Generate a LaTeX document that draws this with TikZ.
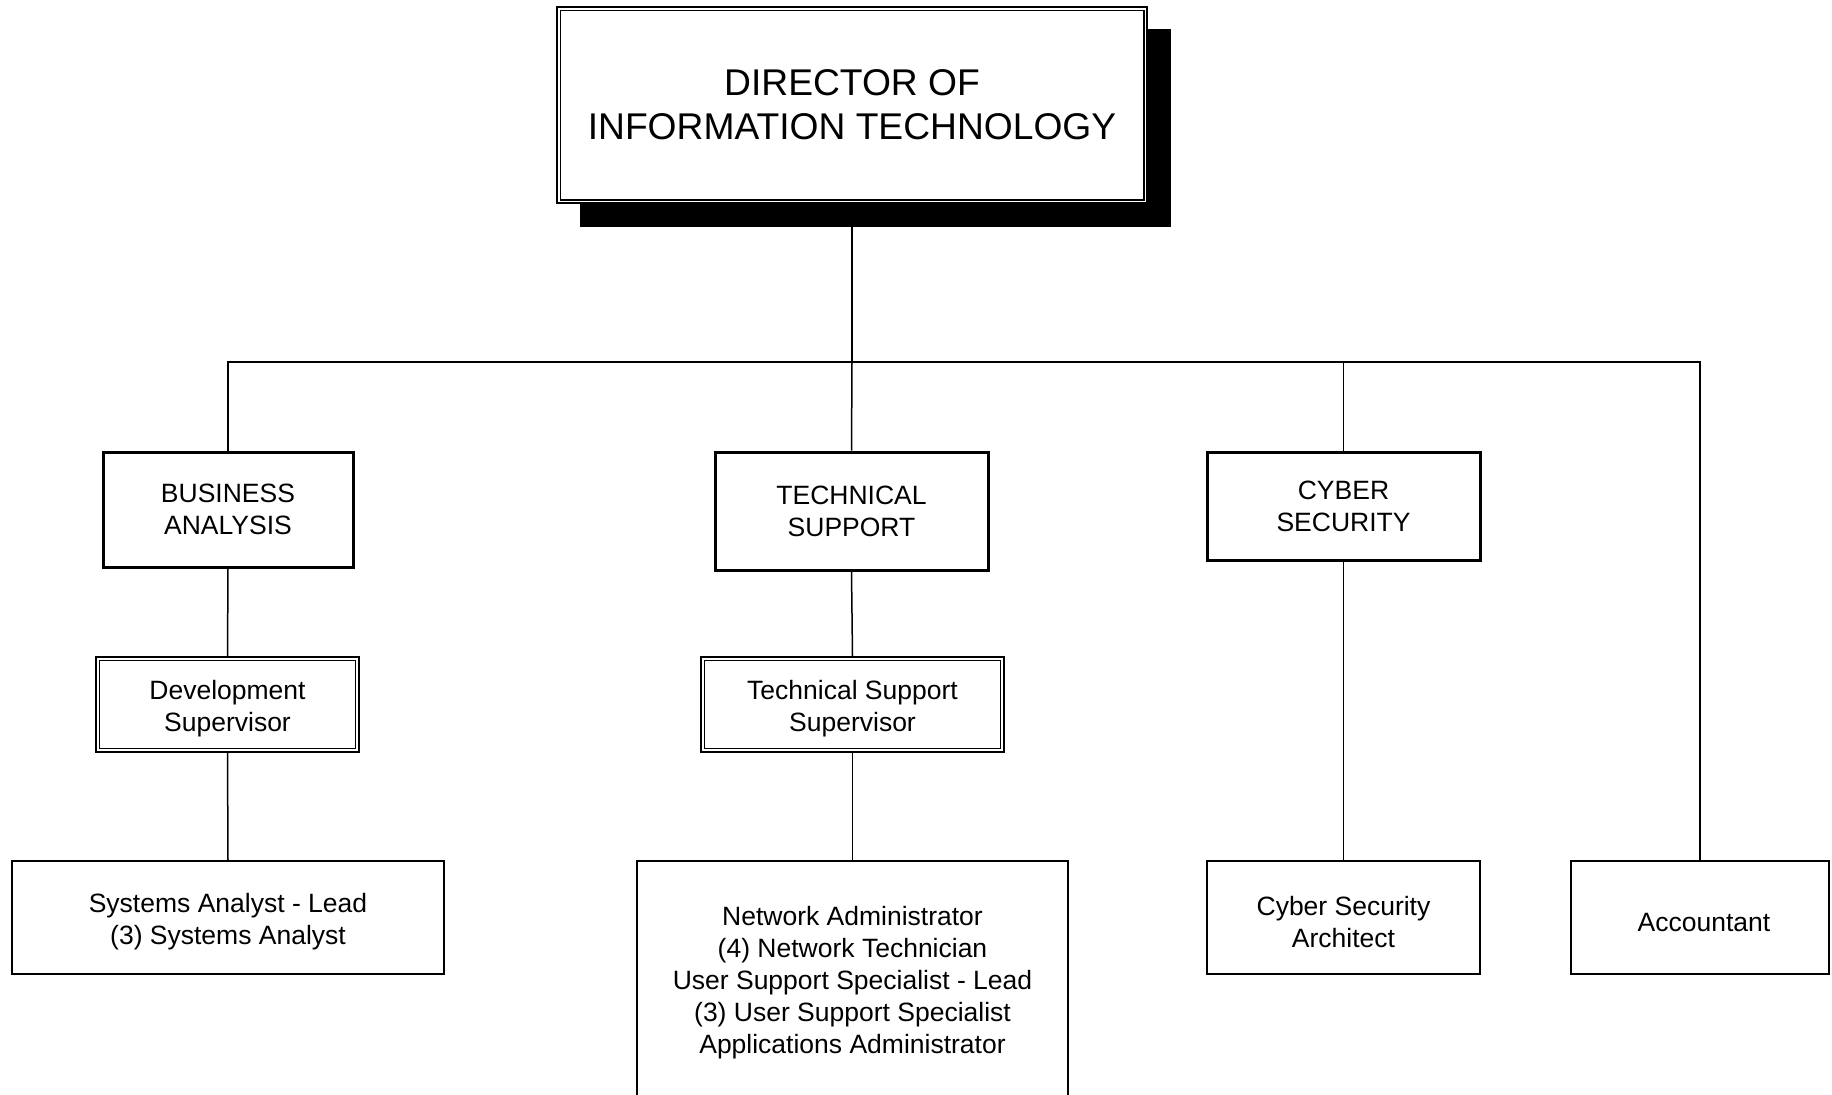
\documentclass[tikz,border=0pt]{standalone}
\usepackage{fontspec}
\setmainfont{Liberation Sans}
\newcommand{\lowtxt}{\rule{0pt}{13.6pt}}
\begin{document}
\begin{tikzpicture}[x=0.5pt,y=-0.5pt,
  every node/.style={inner sep=0pt,align=center,font=\fontsize{13.25}{16}\selectfont},
  conn/.style={line width=0.75pt},
  dirbox/.style={draw,line width=0.6pt,fill=white,font=\fontsize{18.6}{22}\selectfont},
  deptbox/.style={draw,line width=1.5pt,fill=white},
  supbox/.style={draw,line width=0.6pt,fill=white},
  staffbox/.style={draw,line width=1pt,fill=white}]
\useasboundingbox (0,0) rectangle (1832,1094);
\clip (0,0) rectangle (1832,1094);
% bus
\coordinate (bus) at (852,362);
% shadow of director
\fill[black] (580,29) rectangle (1171,227);
% director
\node[dirbox,minimum width=295pt,minimum height=98pt] (dir) at (852,105) {DIRECTOR OF\\INFORMATION TECHNOLOGY};
\draw[line width=0.9pt] ([shift={(4,4)}]dir.north west) rectangle ([shift={(-4,-4)}]dir.south east);
% departments
\node[deptbox,minimum width=125pt,minimum height=57.5pt] (ba) at (228,509.5) {BUSINESS\\ANALYSIS};
\node[deptbox,minimum width=136.5pt,minimum height=59pt] (ts) at (851.5,511) {TECHNICAL\\SUPPORT};
\node[deptbox,minimum width=136.5pt,minimum height=54pt] (cs) at (1343.5,506) {CYBER\\SECURITY};
% supervisors
\node[supbox,minimum width=131.5pt,minimum height=47.5pt] (ds) at (227.5,704.5) {\lowtxt Development\\Supervisor};
\draw[line width=0.6pt] ([shift={(4,4)}]ds.north west) rectangle ([shift={(-4,-4)}]ds.south east);
\node[supbox,minimum width=151.5pt,minimum height=47.5pt] (tss) at (852.5,704.5) {\lowtxt Technical Support\\Supervisor};
\draw[line width=0.6pt] ([shift={(4,4)}]tss.north west) rectangle ([shift={(-4,-4)}]tss.south east);
% staff
\node[staffbox,minimum width=216pt,minimum height=56.5pt] (sa) at (228,917.5) {\lowtxt Systems Analyst - Lead\\(3) Systems Analyst};
\node[staffbox,minimum width=215.5pt,minimum height=117.5pt] (net) at (852.5,978.5) {\lowtxt Network Administrator\\(4) Network Technician\\User Support Specialist - Lead\\(3) User Support Specialist\\Applications Administrator};
\node[staffbox,minimum width=136.5pt,minimum height=56.5pt] (csa) at (1343.5,917.5) {\rule{0pt}{14.5pt}Cyber Security\\Architect};
\node[staffbox,minimum width=129pt,minimum height=56.5pt] (acc) at (1700,917.5) {\rule{0pt}{14.5pt}\hspace*{4pt}Accountant};
% connectors
\draw[conn] (dir.south) -- (bus);
\draw[conn] (ba.north) |- (bus);
\draw[conn] (ts.north) -- (bus);
\draw[conn] (cs.north) |- (bus);
\draw[conn] (acc.north) |- (bus);
\draw[conn] (ba.south) -- (ds.north);
\draw[conn] (ds.south) -- (sa.north);
\draw[conn] (ts.south) -- (tss.north);
\draw[conn] (tss.south) -- (net.north);
\draw[conn] (cs.south) -- (csa.north);
% redraw shadow over line
\fill[black] (580,203.5) rectangle (1171,227);
\fill[black] (1147.5,29) rectangle (1171,227);
\end{tikzpicture}
\end{document}
